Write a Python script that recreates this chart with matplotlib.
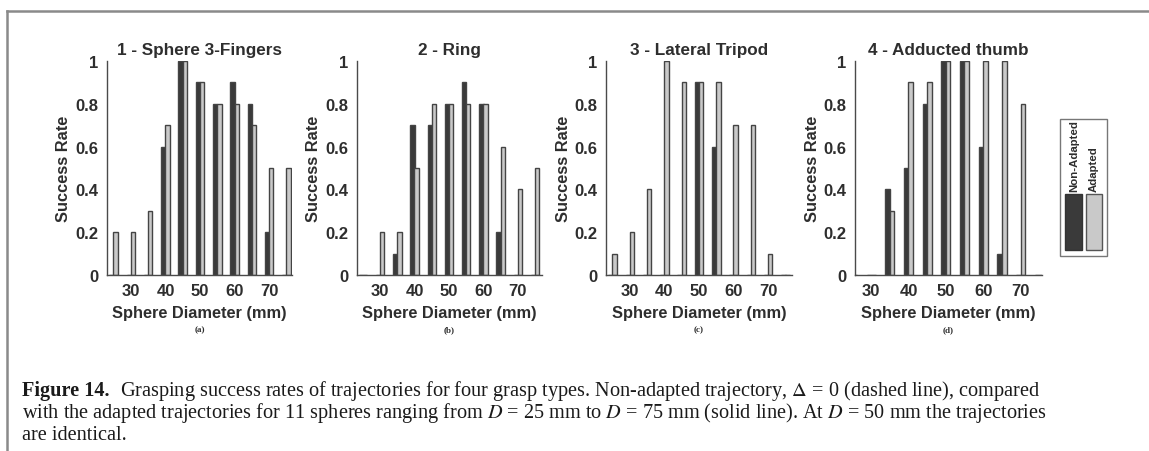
import matplotlib
matplotlib.use("Agg")
import matplotlib.pyplot as plt
from matplotlib.patches import Rectangle
from matplotlib.lines import Line2D
import numpy as np

# sphere diameters (mm)
diameters = [25, 30, 35, 40, 45, 50, 55, 60, 65, 70, 75]

titles = ["1 - Sphere 3-Fingers", "2 - Ring", "3 - Lateral Tripod", "4 - Adducted thumb"]
sublabels = ["(a)", "(b)", "(c)", "(d)"]

# success rates, non-adapted trajectory
non_adapted_1 = [0, 0, 0, 0.6, 1.0, 0.9, 0.8, 0.9, 0.8, 0.2, 0]
non_adapted_2 = [0, 0, 0.1, 0.7, 0.7, 0.8, 0.9, 0.8, 0.2, 0, 0]
non_adapted_3 = [0, 0, 0, 0, 0, 0.9, 0.6, 0, 0, 0, 0]
non_adapted_4 = [0, 0, 0.4, 0.5, 0.8, 1.0, 1.0, 0.6, 0.1, 0, 0]

# success rates, adapted trajectories
adapted_1 = [0.2, 0.2, 0.3, 0.7, 1.0, 0.9, 0.8, 0.8, 0.7, 0.5, 0.5]
adapted_2 = [0, 0.2, 0.2, 0.5, 0.8, 0.8, 0.8, 0.8, 0.6, 0.4, 0.5]
adapted_3 = [0.1, 0.2, 0.4, 1.0, 0.9, 0.9, 0.9, 0.7, 0.7, 0.1, 0]
adapted_4 = [0, 0, 0.3, 0.9, 0.9, 1.0, 1.0, 1.0, 1.0, 0.8, 0]

non_adapted = [non_adapted_1, non_adapted_2, non_adapted_3, non_adapted_4]
adapted = [adapted_1, adapted_2, adapted_3, adapted_4]

x_ticks = [30, 40, 50, 60, 70]
y_ticks = [0, 0.2, 0.4, 0.6, 0.8, 1]
y_ticklabels = ["0", "0.2", "0.4", "0.6", "0.8", "1"]

dark = "#3a3a3a"
light = "#c9c9c9"
edge = "#444444"
txt = "#2e2e2e"

plt.rcParams["font.family"] = ["Liberation Sans", "DejaVu Sans"]
plt.rcParams["mathtext.fontset"] = "stix"

W, H = 1149, 452
fig = plt.figure(figsize=(W / 100, H / 100), dpi=100)

lefts = [107, 357, 606, 855]
widths = [185, 185, 186, 187]
xlims = [(23.1, 76.6), (23.3, 77.0), (23.1, 76.9), (25.7, 75.7)]
top_px, bot_px = 62, 276

x = np.array(diameters)
bw = 1.25
for i in range(4):
    ax = fig.add_axes([lefts[i] / W, (H - bot_px) / H, widths[i] / W, (bot_px - top_px) / H])
    ax.bar(x - 0.6, non_adapted[i], width=bw, color=dark, edgecolor=edge, linewidth=1.0, zorder=2)
    ax.bar(x + 0.6, adapted[i], width=bw, color=light, edgecolor=edge, linewidth=1.0, zorder=2)
    ax.set_xlim(*xlims[i])
    ax.set_ylim(0, 1)
    ax.set_xticks(x_ticks)
    ax.set_yticks(y_ticks)
    ax.set_yticklabels(y_ticklabels)
    ax.tick_params(length=0, labelsize=12, colors=txt, pad=6)
    for lab in ax.get_xticklabels() + ax.get_yticklabels():
        lab.set_fontweight("bold")
    for s in ["top", "right"]:
        ax.spines[s].set_visible(False)
    for s in ["left", "bottom"]:
        ax.spines[s].set_color("#4a4a4a")
        ax.spines[s].set_linewidth(1.0)
    ax.set_title(titles[i], fontsize=12.3, fontweight="bold", color=txt, pad=5)
    ax.set_xlabel("Sphere Diameter (mm)", fontsize=11.8, fontweight="bold", color=txt, labelpad=5)
    ax.set_ylabel("Success Rate", fontsize=11.8, fontweight="bold", color=txt, labelpad=3)
    cx = (lefts[i] + widths[i] / 2) / W
    fig.text(cx, (H - 330) / H, sublabels[i], ha="center", va="center",
             fontsize=6.5, fontweight="bold", family="Liberation Serif", color=txt)

# legend box (rotated labels above colour swatches)
fig.patches.append(Rectangle((1060 / W, (H - 257) / H), 47 / W, 137 / H, transform=fig.transFigure,
                             facecolor="white", edgecolor="#777777", linewidth=1.0))
fig.patches.append(Rectangle((1065 / W, (H - 251) / H), 17 / W, 56 / H, transform=fig.transFigure,
                             facecolor=dark, edgecolor="#333333", linewidth=1.0))
fig.patches.append(Rectangle((1086 / W, (H - 251) / H), 16 / W, 56 / H, transform=fig.transFigure,
                             facecolor=light, edgecolor="#555555", linewidth=1.0))
fig.text(1074 / W, (H - 192) / H, "Non-Adapted", rotation=90, ha="center", va="bottom",
         fontsize=8.2, fontweight="bold", color=txt)
fig.text(1094 / W, (H - 192) / H, "Adapted", rotation=90, ha="center", va="bottom",
         fontsize=8.2, fontweight="bold", color=txt)

# page frame lines
fig.lines.append(Line2D([7 / W, 1.0], [(H - 12) / H] * 2, transform=fig.transFigure,
                        color="#8a8a8a", linewidth=1.8))
fig.lines.append(Line2D([7 / W] * 2, [0, (H - 12) / H], transform=fig.transFigure,
                        color="#8a8a8a", linewidth=1.8))

# caption
cap_kw = dict(family="Liberation Serif", fontsize=14.6, color="#1a1a1a", va="baseline", ha="left")
fig.text(22 / W, (H - 396) / H, "Figure 14.", fontweight="bold", **cap_kw)
fig.text(120 / W, (H - 396) / H,
         r"Grasping success rates of trajectories for four grasp types. Non-adapted trajectory, $\Delta$ = 0 (dashed line), compared",
         **cap_kw)
fig.text(22 / W, (H - 418) / H,
         r"with the adapted trajectories for 11 spheres ranging from $D$ = 25 mm to $D$ = 75 mm (solid line). At $D$ = 50 mm the trajectories",
         **cap_kw)
fig.text(22 / W, (H - 440) / H, "are identical.", **cap_kw)

fig.savefig("out.png", dpi=100, facecolor="white")
